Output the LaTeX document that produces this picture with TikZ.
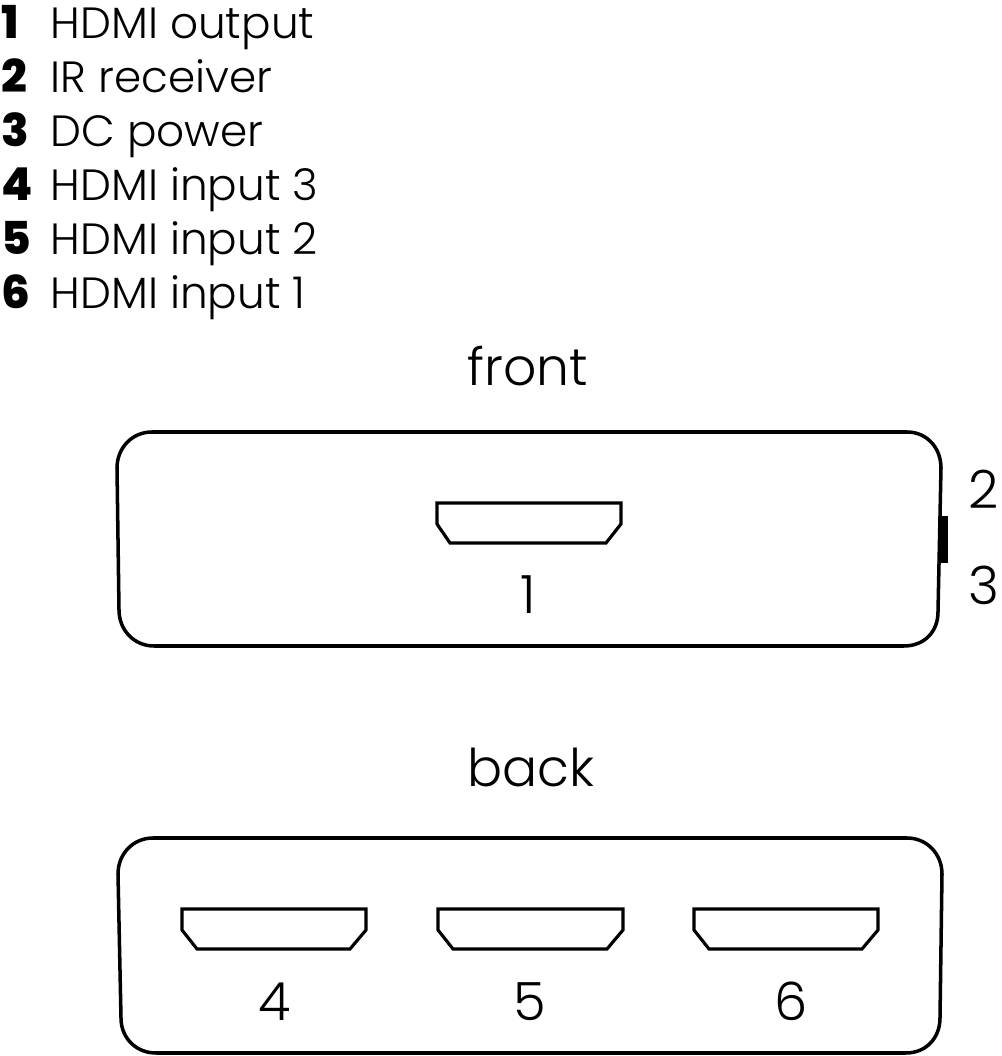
\documentclass[tikz,border=0pt]{standalone}
\usepackage{fontspec}
\setmainfont{Poppins Light}
\newfontfamily\numfont{Poppins ExtraBold}
\tikzset{
  legend/.style={anchor=base west, inner sep=0pt, font=\fontsize{12.45}{14}\selectfont},
  legendnum/.style={anchor=base west, inner sep=0pt, font=\fontsize{12.9}{14}\selectfont\numfont},
  title/.style={anchor=base, inner sep=0pt, font=\fontsize{14.8}{18}\selectfont},
  portnum/.style={anchor=base, inner sep=0pt, font=\fontsize{15}{18}\selectfont},
  outline/.style={line width=1pt, line join=round},
  port/.style={line width=0.9pt, line join=miter},
}
\begin{document}
\begin{tikzpicture}
\useasboundingbox (0,0) rectangle (10.01,10.56);

% legend
\foreach \y/\n/\t [count=\i] in {10.17/1/HDMI output, 9.63/2/IR receiver, 9.09/3/DC power, 8.55/4/HDMI input 3, 8.01/5/HDMI input 2, 7.47/6/HDMI input 1}{
  \node[legendnum] (num\i) at (0.01,\y) {\n};
  \node[legend] (item\i) at (0.50,\y) {\t};
}

% front
\node[title] (front) at (5.28,6.70) {front};
\draw[outline] (1.52,6.24) -- (9.07,6.24) .. controls (9.27,6.24) and (9.41,6.08) .. (9.41,5.88)
  -- (9.38,4.44) .. controls (9.38,4.24) and (9.24,4.10) .. (9.04,4.10)
  -- (1.54,4.10) .. controls (1.34,4.10) and (1.19,4.26) .. (1.19,4.46)
  -- (1.17,5.88) .. controls (1.17,6.08) and (1.32,6.24) .. (1.52,6.24) -- cycle;
\draw[port] (4.37,5.53) -- (6.21,5.53) -- (6.21,5.32) -- (6.06,5.13) -- (4.50,5.13) -- (4.37,5.32) -- cycle;
\node[portnum] (one) at (5.28,4.42) {1};

% switch on the side
\fill (9.38,4.93) rectangle (9.48,5.40);
\node[portnum] (two) at (9.84,5.47) {2};
\node[portnum] (three) at (9.84,4.51) {3};

% back
\node[title] (back) at (5.31,2.69) {back};
\draw[outline] (1.53,2.18) -- (9.07,2.18) .. controls (9.27,2.18) and (9.42,2.02) .. (9.42,1.82)
  -- (9.40,0.38) .. controls (9.40,0.18) and (9.26,0.03) .. (9.06,0.03)
  -- (1.56,0.03) .. controls (1.36,0.03) and (1.21,0.18) .. (1.21,0.38)
  -- (1.18,1.82) .. controls (1.18,2.02) and (1.33,2.18) .. (1.53,2.18) -- cycle;
\foreach \x/\w/\n/\xn in {1.82/1.84/4/2.75, 4.38/1.85/5/5.30, 6.94/1.84/6/7.91}{
  \draw[port] (\x,1.47) -- ++(\w,0) -- ++(0,-0.21) -- ++(-0.16,-0.19) -- ({\x+0.15},1.07) -- (\x,1.26) -- cycle;
  \node[portnum] (port\n) at (\xn,0.35) {\n};
}
\end{tikzpicture}
\end{document}
